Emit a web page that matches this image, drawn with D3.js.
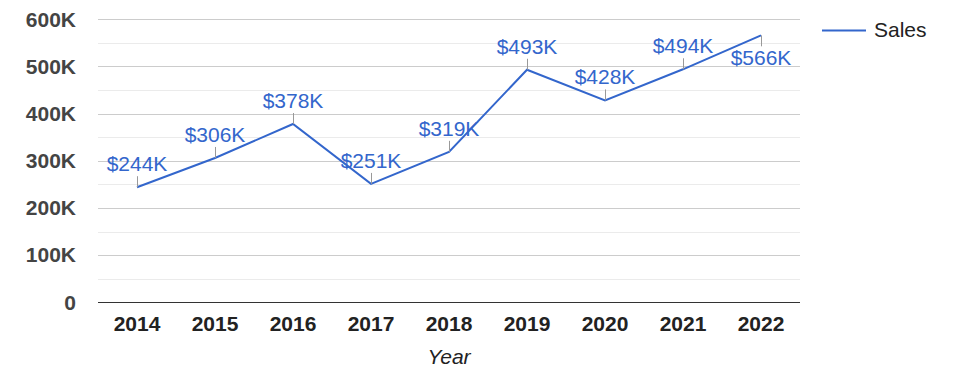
<!DOCTYPE html>
<html>
<head>
<meta charset="utf-8">
<script src="https://cdn.jsdelivr.net/npm/d3@7"></script>
<style>
  html, body { margin: 0; padding: 0; background: #fff; }
  svg { display: block; font-family: "Liberation Sans", Arial, sans-serif; }
</style>
</head>
<body>
<div id="chart"></div>
<script>
// chart data
const years = ['2014', '2015', '2016', '2017', '2018', '2019', '2020', '2021', '2022'];
const sales = [244, 306, 378, 251, 319, 493, 428, 494, 566]; // thousands of dollars
const yTicks = [0, 100, 200, 300, 400, 500, 600];
const minorTicks = [50, 150, 250, 350, 450, 550];
const seriesName = 'Sales';
const xTitle = 'Year';

const width = 975;
const height = 378;
const margin = { top: 19.3, right: 175, bottom: 75.7, left: 98 };

const svg = d3.select('#chart')
  .append('svg')
  .attr('width', width)
  .attr('height', height);

const x = d3.scaleBand()
  .domain(years)
  .range([margin.left, width - margin.right]);

const y = d3.scaleLinear()
  .domain([0, 600])
  .range([height - margin.bottom, margin.top]);

// minor gridlines
svg.append('g')
  .selectAll('line')
  .data(minorTicks)
  .enter()
  .append('line')
  .attr('x1', margin.left)
  .attr('x2', width - margin.right)
  .attr('y1', d => Math.round(y(d)) + 0.5)
  .attr('y2', d => Math.round(y(d)) + 0.5)
  .attr('stroke', '#ebebeb');

// major gridlines
svg.append('g')
  .selectAll('line')
  .data(yTicks.filter(d => d > 0))
  .enter()
  .append('line')
  .attr('x1', margin.left)
  .attr('x2', width - margin.right)
  .attr('y1', d => Math.round(y(d)) + 0.5)
  .attr('y2', d => Math.round(y(d)) + 0.5)
  .attr('stroke', '#cccccc');

// y axis labels
const yAxis = svg.append('g')
  .attr('transform', `translate(${margin.left - 22},0)`)
  .call(d3.axisLeft(y).tickValues(yTicks).tickSize(0).tickPadding(0)
    .tickFormat(d => d === 0 ? '0' : d + 'K'));
yAxis.select('.domain').remove();
yAxis.selectAll('text')
  .attr('fill', '#444')
  .style('font-size', '21px')
  .style('font-weight', 'bold')
  .style('font-family', '"Liberation Sans", Arial, sans-serif');

// x axis labels
const xAxis = svg.append('g')
  .attr('transform', `translate(0,${y(0)})`)
  .call(d3.axisBottom(x).tickSize(0).tickPadding(14));
xAxis.select('.domain').remove();
xAxis.selectAll('text')
  .attr('fill', '#222')
  .style('font-size', '21px')
  .style('font-weight', 'bold')
  .style('font-family', '"Liberation Sans", Arial, sans-serif');

// baseline
svg.append('line')
  .attr('x1', margin.left)
  .attr('x2', width - margin.right)
  .attr('y1', Math.round(y(0)) + 0.5)
  .attr('y2', Math.round(y(0)) + 0.5)
  .attr('stroke', '#333');

// axis title
svg.append('text')
  .attr('x', (margin.left + width - margin.right) / 2)
  .attr('y', 364)
  .attr('text-anchor', 'middle')
  .style('font-size', '21px')
  .style('font-style', 'italic')
  .attr('fill', '#222')
  .text(xTitle);

const cx = (d, i) => x(years[i]) + x.bandwidth() / 2;

// line
const line = d3.line()
  .x((d, i) => cx(d, i))
  .y(d => y(d));

svg.append('path')
  .datum(sales)
  .attr('d', line)
  .attr('fill', 'none')
  .attr('stroke', '#3366cc')
  .attr('stroke-width', 2)
  .attr('stroke-linejoin', 'miter');

// annotations: stem + label, last point labelled below
const last = sales.length - 1;
const notes = svg.append('g')
  .selectAll('g')
  .data(sales)
  .enter()
  .append('g');

notes.append('line')
  .attr('x1', (d, i) => Math.round(cx(d, i)) + 0.5)
  .attr('x2', (d, i) => Math.round(cx(d, i)) + 0.5)
  .attr('y1', d => y(d))
  .attr('y2', (d, i) => i === last ? y(d) + 11 : y(d) - 11)
  .attr('stroke', '#999');

notes.append('text')
  .attr('x', (d, i) => cx(d, i))
  .attr('y', (d, i) => i === last ? y(d) + 30 : y(d) - 16)
  .attr('text-anchor', 'middle')
  .attr('fill', '#3366cc')
  .style('font-size', '21px')
  .text(d => `$${d}K`);

// legend
const legend = svg.append('g')
  .attr('transform', 'translate(822,30)');
legend.append('line')
  .attr('x1', 0)
  .attr('x2', 44)
  .attr('y1', 0.5)
  .attr('y2', 0.5)
  .attr('stroke', '#3366cc')
  .attr('stroke-width', 2);
legend.append('text')
  .attr('x', 52)
  .attr('y', 0)
  .attr('dy', '0.35em')
  .attr('fill', '#222')
  .style('font-size', '21px')
  .text(seriesName);
</script>
</body>
</html>
